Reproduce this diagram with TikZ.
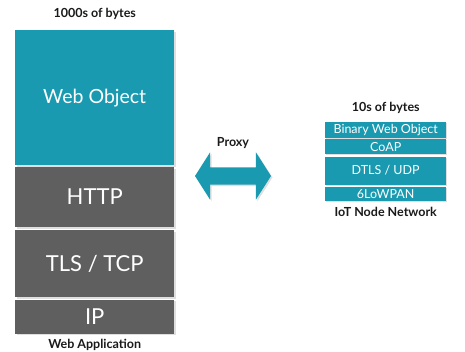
\documentclass[tikz,border=0pt]{standalone}
\usepackage{fontspec}
\setmainfont{Lato}
\usepackage{xcolor}
\usetikzlibrary{positioning,shapes.arrows,shadows}
\definecolor{objteal}{HTML}{1A9AB0}
\definecolor{layergray}{HTML}{5F5F5F}
\definecolor{captiontext}{HTML}{1A1A1A}

\begin{document}
\begin{tikzpicture}[x=1pt, y=-1pt,
    bigpart/.style={inner sep=0pt, text=white, minimum width=159pt, font=\fontsize{22}{24}\selectfont, drop shadow={opacity=0.25, shadow xshift=1.5pt, shadow yshift=-1.5pt}},
    smallpart/.style={inner sep=0pt, text=white, fill=objteal, minimum width=121pt, font=\fontsize{12.5}{14}\selectfont, drop shadow={opacity=0.25, shadow xshift=1pt, shadow yshift=-1pt}},
    caption/.style={inner sep=0pt, text=captiontext, font=\fontsize{12.5}{14}\selectfont\bfseries}]
    \useasboundingbox (0,0) rectangle (465,351);
    % web application stack
    \node[bigpart, fill=objteal, minimum height=135pt, anchor=north west, font=\fontsize{19.5}{22}\selectfont] (webobject) at (15,30) {Web Object};
    \node[bigpart, fill=layergray, minimum height=60pt, below=1.5pt of webobject] (http) {HTTP};
    \node[bigpart, fill=layergray, minimum height=67pt, below=2.5pt of http] (tlstcp) {TLS / TCP};
    \node[bigpart, fill=layergray, minimum height=34pt, below=2.5pt of tlstcp] (ip) {IP};
    \node[caption, above=10pt of webobject] (bigsize) {1000s of bytes};
    \node[caption, below=5pt of ip] (webapp) {Web Application};
    % iot node stack
    \node[smallpart, minimum height=16pt, anchor=north west] (binobject) at (325,122) {Binary Web Object};
    \node[smallpart, minimum height=15pt, below=0.5pt of binobject] (coap) {CoAP};
    \node[smallpart, minimum height=28pt, below=2pt of coap] (dtlsudp) {DTLS / UDP};
    \node[smallpart, minimum height=14pt, below=2pt of dtlsudp] (sixlowpan) {6LoWPAN};
    \node[caption, above=8pt of binobject] (smallsize) {10s of bytes};
    \node[caption, below=6pt of sixlowpan] (iotnet) {IoT Node Network};
    % proxy
    \node[double arrow, fill=objteal, inner xsep=0pt, inner ysep=8.5pt, minimum height=76pt, minimum width=47pt, double arrow head extend=15pt, double arrow tip angle=115, drop shadow={opacity=0.25, shadow xshift=1.5pt, shadow yshift=-1.5pt}] (proxyarrow) at (233,176) {};
    \node[caption, above=18pt of proxyarrow] (proxy) {Proxy};
\end{tikzpicture}
\end{document}
